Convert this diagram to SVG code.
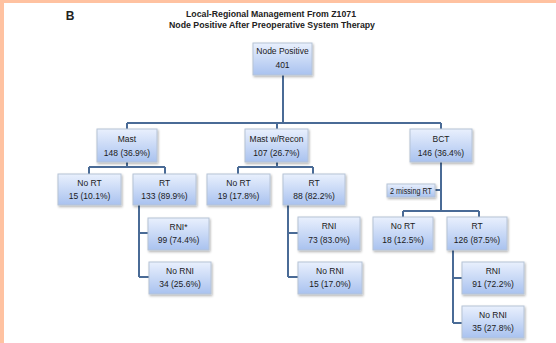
<svg xmlns="http://www.w3.org/2000/svg" width="556" height="343" viewBox="0 0 556 343">
<defs>
<linearGradient id="g" x1="0" y1="0" x2="0" y2="1">
<stop offset="0" stop-color="#e9f0fd"/>
<stop offset="1" stop-color="#a9c2ef"/>
</linearGradient>
<filter id="sh" x="-10%" y="-10%" width="130%" height="140%">
<feDropShadow dx="1" dy="1.5" stdDeviation="1" flood-color="#000" flood-opacity="0.3"/>
</filter>
</defs>
<style>
.b{fill:url(#g);stroke:#b6c3d6;stroke-width:1;filter:url(#sh)}
.t{font-family:"Liberation Sans",Arial,sans-serif;font-size:8.5px;fill:#1a1a1a;text-anchor:middle}
.c{fill:none;stroke:#4a6b96;stroke-width:2}
.h{font-family:"Liberation Sans",Arial,sans-serif;font-weight:bold;fill:#222;text-anchor:middle}
</style>
<rect width="556" height="343" fill="#fff"/>
<rect x="0" y="0" width="556" height="3" fill="#ffc2a1"/>
<rect x="0" y="0" width="4" height="343" fill="#ffc2a1"/>
<text class="h" x="70" y="20" font-size="12">B</text>
<text class="h" x="271" y="17" font-size="9" textLength="170" lengthAdjust="spacingAndGlyphs">Local-Regional Management From Z1071</text>
<text class="h" x="272" y="28" font-size="9" textLength="206" lengthAdjust="spacingAndGlyphs">Node Positive After Preoperative System Therapy</text>
<g id="connectors">
<path class="c" d="M283 75V123M127 123H441M127 123V130M277 123V130M441 123V130"/>
<path class="c" d="M127 162V167M89 167H165M89 167V174M165 167V174"/>
<path class="c" d="M277 162V167M238 167H313M238 167V174M313 167V174"/>
<path class="c" d="M139 204V277M139 233H148M139 277H149"/>
<path class="c" d="M288 204V277M288 233H298M288 277H298"/>
<path class="c" d="M441 162V211M435 190H441M403 211H479M403 211V217M479 211V217"/>
<path class="c" d="M453 250V323M453 278H462M453 323H462"/>
</g>
<g id="n_root"><rect class="b" x="253" y="43" width="59" height="32"/><text class="t" x="282.5" y="54">Node Positive</text><text class="t" x="282.5" y="68">401</text></g>
<g id="n_mast"><rect class="b" x="97" y="129" width="60" height="33"/><text class="t" x="127" y="142">Mast</text><text class="t" x="127" y="156">148 (36.9%)</text></g>
<g id="n_recon"><rect class="b" x="245" y="129" width="63" height="33"/><text class="t" x="276.5" y="142">Mast w/Recon</text><text class="t" x="276.5" y="156">107 (26.7%)</text></g>
<g id="n_bct"><rect class="b" x="410" y="129" width="62" height="33"/><text class="t" x="441" y="142">BCT</text><text class="t" x="441" y="156">146 (36.4%)</text></g>
<g id="n_mast_nort"><rect class="b" x="58" y="174" width="63" height="31"/><text class="t" x="89.5" y="186">No RT</text><text class="t" x="89.5" y="199">15 (10.1%)</text></g>
<g id="n_mast_rt"><rect class="b" x="133" y="174" width="63" height="31"/><text class="t" x="164.5" y="186">RT</text><text class="t" x="164.5" y="199">133 (89.9%)</text></g>
<g id="n_recon_nort"><rect class="b" x="207" y="174" width="63" height="31"/><text class="t" x="238.5" y="186">No RT</text><text class="t" x="238.5" y="199">19 (17.8%)</text></g>
<g id="n_recon_rt"><rect class="b" x="283" y="174" width="62" height="31"/><text class="t" x="314" y="186">RT</text><text class="t" x="314" y="199">88 (82.2%)</text></g>
<g id="n_mast_rni"><rect class="b" x="148" y="218" width="61" height="32"/><text class="t" x="178.5" y="230">RNI*</text><text class="t" x="178.5" y="243">99 (74.4%)</text></g>
<g id="n_mast_norni"><rect class="b" x="149" y="262" width="62" height="32"/><text class="t" x="180" y="274">No RNI</text><text class="t" x="180" y="287">34 (25.6%)</text></g>
<g id="n_recon_rni"><rect class="b" x="298" y="217" width="62" height="33"/><text class="t" x="329" y="229">RNI</text><text class="t" x="329" y="243">73 (83.0%)</text></g>
<g id="n_recon_norni"><rect class="b" x="298" y="262" width="64" height="32"/><text class="t" x="330" y="274">No RNI</text><text class="t" x="330" y="287">15 (17.0%)</text></g>
<g id="n_missing"><rect class="b" x="387" y="184" width="48" height="13"/><text class="t" x="411" y="193.5" font-size="7" textLength="42" lengthAdjust="spacingAndGlyphs">2 missing RT</text></g>
<g id="n_bct_nort"><rect class="b" x="373" y="217" width="60" height="33"/><text class="t" x="403" y="229">No RT</text><text class="t" x="403" y="243">18 (12.5%)</text></g>
<g id="n_bct_rt"><rect class="b" x="447" y="217" width="60" height="33"/><text class="t" x="477" y="229">RT</text><text class="t" x="477" y="243">126 (87.5%)</text></g>
<g id="n_bct_rni"><rect class="b" x="462" y="262" width="62" height="32"/><text class="t" x="493" y="274">RNI</text><text class="t" x="493" y="287">91 (72.2%)</text></g>
<g id="n_bct_norni"><rect class="b" x="462" y="306" width="62" height="32"/><text class="t" x="493" y="318">No RNI</text><text class="t" x="493" y="331">35 (27.8%)</text></g>
</svg>
